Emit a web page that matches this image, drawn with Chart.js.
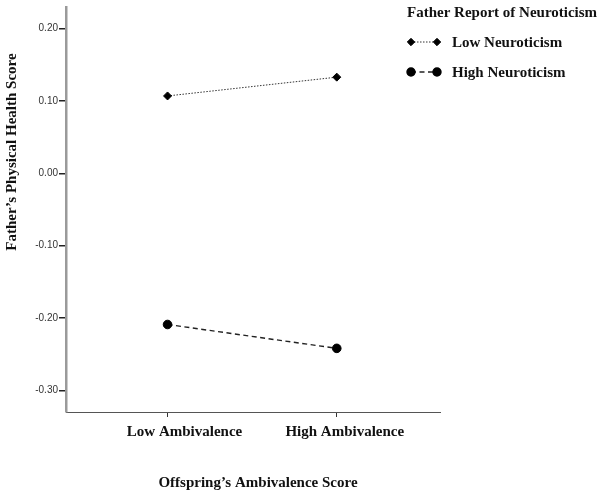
<!DOCTYPE html>
<html>
<head>
<meta charset="utf-8">
<script src="https://cdn.jsdelivr.net/npm/chart.js@4.4.0/dist/chart.umd.min.js"></script>
<style>
html, body { margin: 0; padding: 0; background: #fff; }
#wrap { width: 600px; height: 496px; }
</style>
</head>
<body>
<div id="wrap"><canvas id="chart"></canvas></div>
<script>
"use strict";
// chart data
const ambivalence_labels = ['Low Ambivalence', 'High Ambivalence'];
const ambivalence_pos = [0, 1];
const low_neuroticism = [0.107, 0.133];
const high_neuroticism = [-0.209, -0.242];
const y_ticks = [-0.30, -0.20, -0.10, 0.00, 0.10, 0.20];
const series_names = ['Low Neuroticism', 'High Neuroticism'];
const legend_title = 'Father Report of Neuroticism';
const y_title = 'Father\u2019s Physical Health Score';
const x_title = 'Offspring\u2019s Ambivalence Score';

const serif_bold = 'bold 15px "Liberation Serif", "DejaVu Serif", serif';
// the category labels sit a bit right of their ticks in the original
const x_label_shift = [17, 8];

function to_points (values) {
    return ambivalence_pos.map((x, i) => ({x: x, y: values[i]}));
}

// titles, category labels and legend drawn by hand
const extras_plugin = {
    id: 'extras',
    afterDraw (chart) {
        const ctx = chart.ctx;
        const x_scale = chart.scales.x;
        ctx.save();
        ctx.fillStyle = '#111';
        ctx.font = serif_bold;
        ctx.textAlign = 'center';
        ctx.textBaseline = 'middle';

        // category labels
        ambivalence_pos.forEach((v, i) => {
            ctx.fillText(ambivalence_labels[i], x_scale.getPixelForValue(v) + x_label_shift[i], x_scale.top + 20);
        });

        // y title
        ctx.save();
        ctx.translate(12, 152);
        ctx.rotate(-Math.PI / 2);
        ctx.fillText(y_title, 0, 0);
        ctx.restore();

        // x title
        ctx.fillText(x_title, 258, 483);

        // legend
        ctx.textAlign = 'left';
        ctx.fillText(legend_title, 407, 13);
        chart.data.datasets.forEach((ds, i) => {
            const y = 42 + i * 30;
            ctx.save();
            ctx.strokeStyle = ds.borderColor;
            ctx.lineWidth = ds.borderWidth;
            ctx.setLineDash(ds.borderDash);
            ctx.beginPath();
            ctx.moveTo(411, y);
            ctx.lineTo(437, y);
            ctx.stroke();
            ctx.setLineDash([]);
            ctx.fillStyle = ds.pointBackgroundColor;
            ctx.strokeStyle = ds.pointBorderColor;
            const opts = {pointStyle: ds.pointStyle, radius: ds.pointRadius - 0.3, rotation: 0, borderWidth: 1};
            Chart.helpers.drawPoint(ctx, opts, 411, y);
            Chart.helpers.drawPoint(ctx, opts, 437, y);
            ctx.restore();
            ctx.fillText(ds.label, 452, y + 1);
        });
        ctx.restore();
    }
};

const chart_ctx = document.getElementById('chart').getContext('2d');
const chart = new Chart(chart_ctx, {
    type: 'line',
    data: {
        datasets: [{
            label: series_names[0],
            data: to_points(low_neuroticism),
            borderColor: '#333',
            borderWidth: 1,
            borderDash: [1.5, 1.5],
            pointStyle: 'rectRot',
            pointRadius: 4,
            pointBackgroundColor: '#000',
            pointBorderColor: '#000',
            pointBorderWidth: 1,
        }, {
            label: series_names[1],
            data: to_points(high_neuroticism),
            borderColor: '#222',
            borderWidth: 1.4,
            borderDash: [5, 3.5],
            pointStyle: 'circle',
            pointRadius: 4.3,
            pointBackgroundColor: '#000',
            pointBorderColor: '#000',
            pointBorderWidth: 1,
        }]
    },
    options: {
        responsive: true,
        maintainAspectRatio: false,
        animation: false,
        layout: {padding: {top: 5, right: 160, left: 0, bottom: 0}},
        plugins: {
            legend: {display: false},
            tooltip: {enabled: false},
        },
        scales: {
            x: {
                type: 'linear',
                min: -0.6,
                max: 1.61,
                afterBuildTicks: (axis) => { axis.ticks = ambivalence_pos.map((v) => ({value: v})); },
                afterFit: (axis) => { axis.height = 84; },
                ticks: {display: false},
                grid: {drawOnChartArea: false, tickLength: 5, color: '#333'},
                border: {color: '#555', width: 1},
            },
            y: {
                min: -0.33,
                max: 0.23,
                afterBuildTicks: (axis) => { axis.ticks = y_ticks.map((v) => ({value: v})); },
                afterFit: (axis) => { axis.width = 66; },
                ticks: {
                    callback: (v) => v.toFixed(2),
                    font: {family: '"Liberation Sans", Arial, sans-serif', size: 10},
                    color: '#333',
                    padding: 1,
                },
                grid: {drawOnChartArea: false, tickLength: 7, color: '#222', lineWidth: 1.5},
                border: {color: '#9a9a9a', width: 2.5},
            }
        }
    },
    plugins: [extras_plugin]
});
</script>
</body>
</html>
